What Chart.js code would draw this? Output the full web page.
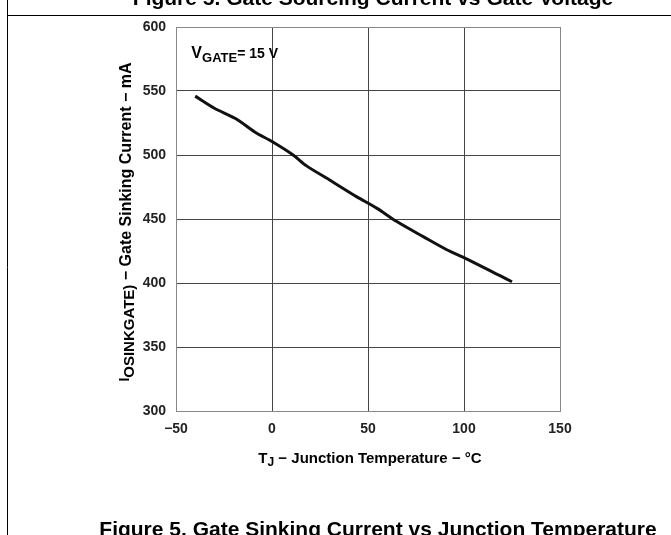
<!DOCTYPE html>
<html>
<head>
<meta charset="utf-8">
<script src="https://cdn.jsdelivr.net/npm/chart.js@4/dist/chart.umd.min.js"></script>
<style>
  html, body { margin: 0; padding: 0; background: #fff; }
  canvas { display: block; }
</style>
</head>
<body>
<canvas id="chart" width="671" height="535"></canvas>
<script>
// junction temperature (deg C) and gate sinking current (mA)
var tempC  = [-40, -30, -19, -9, 0, 11, 18, 30, 44, 54.5, 65, 79, 91, 100.5, 119, 125];
var sinkMA = [546, 536.5, 528.5, 518, 510.5, 500, 491.5, 480.5, 467.5, 458.5, 448, 436, 426, 419.5, 405.5, 401];

var xTicks = [-50, 0, 50, 100, 150];
var yTicks = [300, 350, 400, 450, 500, 550, 600];

var topTitle = "Figure 5. Gate Sourcing Current vs Gate Voltage";
var caption = "Figure 5. Gate Sinking Current vs Junction Temperature";

var FONT = "'Liberation Sans', Arial, sans-serif";

function points() {
    let set = [];
    for (let i = 0; i < tempC.length; i++) {
        set.push({ x: tempC[i], y: sinkMA[i] });
    }
    return set;
}

// draws text pieces one after another, some of them as subscripts
function drawParts(ctx, parts, x, y) {
    let cx = x;
    parts.forEach((p) => {
        ctx.font = "bold " + p.size + "px " + FONT;
        ctx.fillText(p.text, cx, y + (p.dy || 0));
        cx += ctx.measureText(p.text).width;
    });
}
function partsWidth(ctx, parts) {
    let w = 0;
    parts.forEach((p) => {
        ctx.font = "bold " + p.size + "px " + FONT;
        w += ctx.measureText(p.text).width;
    });
    return w;
}

var decor = {
    id: 'decor',
    afterDraw(chart) {
        const ctx = chart.ctx;
        const xs = chart.scales.x, ys = chart.scales.y;
        const area = chart.chartArea;
        ctx.save();
        // page frame
        ctx.strokeStyle = '#000';
        ctx.lineWidth = 1;
        ctx.beginPath();
        ctx.moveTo(7.5, 0);
        ctx.lineTo(7.5, 535);
        ctx.moveTo(7, 15.5);
        ctx.lineTo(671, 15.5);
        ctx.stroke();

        ctx.fillStyle = '#000';
        ctx.textBaseline = 'alphabetic';
        ctx.textAlign = 'left';
        ctx.font = "bold 21px " + FONT;
        let w = ctx.measureText(topTitle).width;
        ctx.fillText(topTitle, 373 - w / 2, 5);
        w = ctx.measureText(caption).width;
        ctx.fillText(caption, 378 - w / 2, 536);

        // x axis title
        const xt = [
            { text: "T", size: 15 },
            { text: "J", size: 12, dy: 3 },
            { text: " \u2212 Junction Temperature \u2212 \u00b0C", size: 15 }
        ];
        w = partsWidth(ctx, xt);
        drawParts(ctx, xt, 370 - w / 2, 463);

        // y axis title
        const yt = [
            { text: "I", size: 14, dy: -2 },
            { text: "OSINKGATE)", size: 15, dy: 3 },
            { text: " \u2212 Gate Sinking Current \u2212 mA", size: 16 }
        ];
        w = partsWidth(ctx, yt);
        ctx.save();
        ctx.translate(131, 222);
        ctx.rotate(-Math.PI / 2);
        drawParts(ctx, yt, -w / 2, 0);
        ctx.restore();

        // condition label
        const vt = [
            { text: "V", size: 16 },
            { text: "GATE", size: 13, dy: 4 },
            { text: "= 15 V", size: 14 }
        ];
        drawParts(ctx, vt, xs.getPixelForValue(-42), ys.getPixelForValue(576));
        ctx.restore();
    }
};

var ctx = document.getElementById("chart").getContext('2d');
var mychart = new Chart(ctx, {
    type: 'scatter',
    data: {
        datasets: [{
            label: "Gate sinking current",
            data: points(),
            showLine: true,
            fill: false,
            borderColor: '#111',
            borderWidth: 3,
            pointRadius: 0,
            tension: 0.3
        }]
    },
    options: {
        responsive: false,
        animation: false,
        layout: { padding: { left: 136, right: 111, top: 27, bottom: 94 } },
        plugins: {
            legend: { display: false },
            tooltip: { enabled: false }
        },
        scales: {
            x: {
                type: 'linear',
                min: -50,
                max: 150,
                afterBuildTicks(scale) { scale.ticks = xTicks.map((v) => ({ value: v })); },
                afterFit(scale) { scale.height = 30; },
                ticks: {
                    color: '#222',
                    padding: 10,
                    maxRotation: 0,
                    font: { family: FONT, size: 14, weight: 'bold' },
                    callback: (v) => String(v).replace('-', '\u2212')
                },
                grid: {
                    drawTicks: false,
                    color: (c) => (c.tick && (c.tick.value === -50 || c.tick.value === 150)) ? '#888' : '#444',
                    lineWidth: 1
                },
                border: { color: '#888', width: 1 }
            },
            y: {
                min: 300,
                max: 600,
                afterBuildTicks(scale) { scale.ticks = yTicks.map((v) => ({ value: v })); },
                afterFit(scale) { scale.width = 40; },
                ticks: {
                    color: '#222',
                    padding: 10,
                    font: { family: FONT, size: 14, weight: 'bold' }
                },
                grid: {
                    drawTicks: false,
                    color: (c) => (c.tick && (c.tick.value === 300 || c.tick.value === 600)) ? '#888' : '#444',
                    lineWidth: 1
                },
                border: { color: '#888', width: 1 }
            }
        }
    },
    plugins: [decor]
});
</script>
</body>
</html>
